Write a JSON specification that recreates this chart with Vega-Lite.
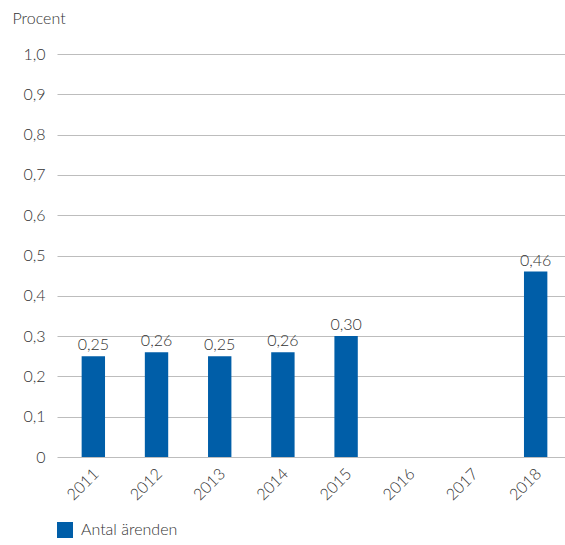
{
  "$schema": "https://vega.github.io/schema/vega-lite/v6.json",
  "width": 515,
  "height": 403,
  "autosize": "none",
  "padding": {"left": 57, "top": 54, "right": 0, "bottom": 88},
  "background": "white",
  "config": {
    "font": "Lato",
    "view": {"stroke": null},
    "locale": {
      "number": {"decimal": ",", "thousands": " ", "grouping": [3], "currency": ["", " kr"]}
    }
  },
  "data": {
    "values": [
      {"year": "2011", "value": 0.25, "serie": "Antal ärenden"},
      {"year": "2012", "value": 0.26, "serie": "Antal ärenden"},
      {"year": "2013", "value": 0.25, "serie": "Antal ärenden"},
      {"year": "2014", "value": 0.26, "serie": "Antal ärenden"},
      {"year": "2015", "value": 0.30, "serie": "Antal ärenden"},
      {"year": "2016", "value": null, "serie": "Antal ärenden"},
      {"year": "2017", "value": null, "serie": "Antal ärenden"},
      {"year": "2018", "value": 0.46, "serie": "Antal ärenden"}
    ]
  },
  "encoding": {
    "x": {
      "field": "year",
      "type": "ordinal",
      "sort": null,
      "scale": {"domain": ["2011","2012","2013","2014","2015","2016","2017","2018"], "paddingInner": 0.63, "paddingOuter": 0.39},
      "axis": {
        "title": null,
        "labelAngle": -45,
        "labelAlign": "right",
        "labelBaseline": "middle",
        "labelFontSize": 16,
        "labelFontWeight": 300,
        "labelColor": "#333333",
        "labelPadding": 14,
        "labelOffset": 3,
        "ticks": false,
        "domain": false,
        "grid": false
      }
    },
    "y": {
      "field": "value",
      "type": "quantitative",
      "scale": {"domain": [0, 1], "nice": false},
      "axis": {
        "title": "Procent",
        "titleAngle": 0,
        "titleAlign": "left",
        "titleBaseline": "middle",
        "titleX": -45,
        "titleY": -36,
        "titleFontSize": 16,
        "titleFontWeight": 300,
        "titleColor": "#333333",
        "values": [0, 0.1, 0.2, 0.3, 0.4, 0.5, 0.6, 0.7, 0.8, 0.9, 1.0],
        "format": ".1f",
        "labelExpr": "datum.value == 0 ? '0' : datum.label",
        "labelFontSize": 16,
        "labelFontWeight": 300,
        "labelColor": "#333333",
        "labelPadding": 12,
        "ticks": false,
        "domain": false,
        "grid": true,
        "gridColor": "#bdbdbd",
        "gridWidth": 1
      }
    }
  },
  "layer": [
    {
      "mark": {"type": "bar", "color": "#005EA8"},
      "encoding": {
        "color": {
          "field": "serie",
          "type": "nominal",
          "scale": {"range": ["#005EA8"]},
          "legend": {
            "title": null,
            "orient": "none",
            "legendX": 0,
            "legendY": 468,
            "symbolType": "square",
            "symbolSize": 256,
            "symbolStrokeWidth": 0,
            "labelFontSize": 16,
            "labelFontWeight": 300,
            "labelColor": "#333333",
            "labelOffset": 8
          }
        }
      }
    },
    {
      "mark": {"type": "text", "baseline": "bottom", "dy": -3, "fontSize": 16, "fontWeight": 300, "color": "#333333"},
      "encoding": {
        "text": {"field": "value", "type": "quantitative", "format": ".2f"}
      }
    }
  ]
}
